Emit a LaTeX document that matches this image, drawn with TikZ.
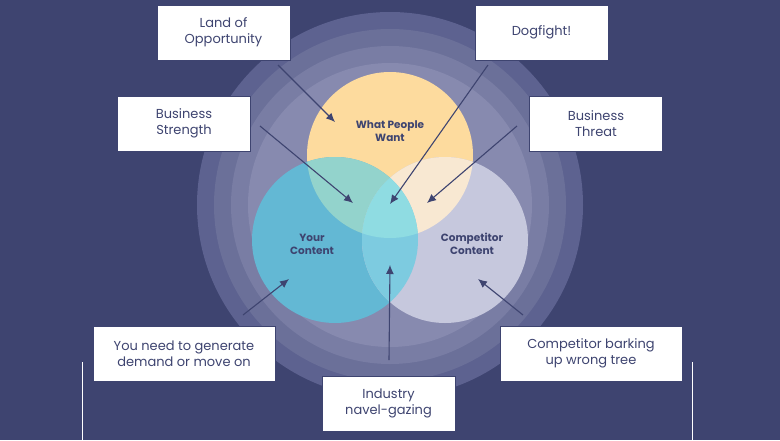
\documentclass[tikz,border=0pt]{standalone}
\usepackage{fontspec}
\setmainfont{Poppins}
\usetikzlibrary{arrows.meta}
\definecolor{bg}{HTML}{3E4470}
\definecolor{txt}{HTML}{3E4470}
\definecolor{ylw}{HTML}{FDDB9E}
\definecolor{blu}{HTML}{63B8D4}
\definecolor{gry}{HTML}{C6C8DD}
\definecolor{yb}{HTML}{93D3CC}
\definecolor{yg}{HTML}{F8E8D2}
\definecolor{bg2}{HTML}{7DCBE0}
\definecolor{ctr}{HTML}{8FDCE2}
\definecolor{r1}{HTML}{5D6290}
\definecolor{r2}{HTML}{6B7099}
\definecolor{r3}{HTML}{797DA4}
\definecolor{r4}{HTML}{878AAF}
\tikzset{
 box/.style={draw=bg,line width=1pt,fill=white,minimum width=133pt,minimum height=55pt,align=center,font=\fontsize{13}{16}\selectfont,text=txt,inner sep=0pt},
 wbox/.style={box,minimum width=182pt},
 lbl/.style={align=center,font=\bfseries\fontsize{10.5}{13}\selectfont,text=txt},
 arr/.style={draw=txt,line width=1.1pt,-{Latex[length=9pt,width=8pt]}},
}
\begin{document}
\begin{tikzpicture}[x=1pt,y=-1pt]
\fill[bg] (0,0) rectangle (780,440);
\useasboundingbox (0,0) rectangle (780,440);
\fill[r1] (390,205) circle (193);
\fill[r2] (390,205) circle (176);
\fill[r3] (390,205) circle (159);
\fill[r4] (390,205) circle (142);
\fill[ylw] (390,155) circle (83);
\fill[blu] (335,240) circle (83);
\fill[gry] (445,240) circle (83);
\begin{scope}\clip (390,155) circle (83); \fill[yb] (335,240) circle (83); \fill[yg] (445,240) circle (83);\end{scope}
\begin{scope}\clip (335,240) circle (83); \fill[bg2] (445,240) circle (83);
 \clip (390,155) circle (83); \fill[ctr] (445,240) circle (83);\end{scope}
\node[lbl] (wpw) at (390,131) {What People\\Want};
\node[lbl] (yc) at (312,244) {Your\\Content};
\node[lbl] (cc) at (472,244) {Competitor\\Content};
\node[box] (land) at (223.5,32.5) {Land of\\Opportunity};
\node[box] (dog) at (541.5,32.5) {Dogfight!};
\node[box] (bs) at (184,123.5) {Business\\Strength};
\node[box] (bt) at (596,123.5) {Business\\Threat};
\node[wbox] (yn) at (184,353.5) {You need to generate\\demand or move on};
\node[wbox] (cb) at (591,353.5) {Competitor barking\\up wrong tree};
\node[box] (ind) at (388.5,403.5) {Industry\\navel-gazing};
\coordinate (a1) at (278,65); \coordinate (b1) at (335,122);
\coordinate (a2) at (488,65); \coordinate (b2) at (390,204);
\coordinate (a3) at (260,126); \coordinate (b3) at (353,203);
\coordinate (a4) at (517,126); \coordinate (b4) at (427,203);
\coordinate (a5) at (243,315); \coordinate (b5) at (289,279);
\coordinate (a6) at (389,360); \coordinate (b6) at (390,265);
\coordinate (a7) at (523,315); \coordinate (b7) at (478,279);
\foreach \i in {1,...,7}{\draw[arr] (a\i) -- (b\i);}
\coordinate (l1) at (82,362); \coordinate (l2) at (82,440);
\coordinate (q1) at (692,362); \coordinate (q2) at (692,440);
\draw[white,line width=1pt] (l1) -- (l2) (q1) -- (q2);
\end{tikzpicture}
\end{document}
